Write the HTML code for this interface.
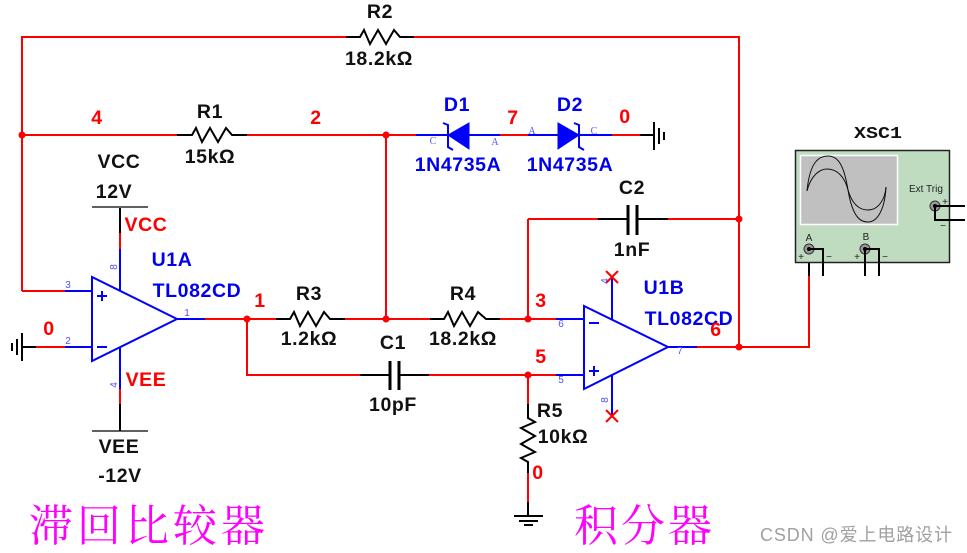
<!DOCTYPE html>
<html>
<head>
<meta charset="utf-8">
<style>
html,body{margin:0;padding:0;background:#fff;}
svg{display:block;}
text{font-family:"Liberation Sans",sans-serif;}
.l{font-size:19.5px;font-weight:bold;letter-spacing:.6px;text-anchor:middle;}
.k{fill:#111;}
.r{fill:#ff0000;}
.b{fill:#0000ee;}
.p{font-size:10px;fill:#5050ff;text-anchor:middle;}
.w{fill:none;stroke:#ff0000;stroke-width:2;}
.n{fill:none;stroke:#000;stroke-width:2;}
.u{fill:none;stroke:#0000ff;stroke-width:2;}
.zh{font-family:"Noto Serif CJK SC",serif;font-size:44px;fill:#ff00ff;}
</style>
</head>
<body>
<svg width="967" height="553" viewBox="0 0 967 553" xmlns="http://www.w3.org/2000/svg">
<rect width="967" height="553" fill="#fff"/>

<!-- red wires -->
<path class="w" d="M22 291V37H360M400 37H739V347M22 135H177M247 135H416M386 135V319M36 347H65M205 319H276M345 319H430M500 319H556M247 319V375H360M429 375H556M528 219V319M528 375V404M528 473V502M528 219H598M668 219H739M697 347H809V276M500 135H528M612 135H640M120 233V249M120 389V404M22 291H65"/>

<!-- black segments -->
<path class="n" d="M346 37H360L364 30L370 44L378 30L386 44L394 30L400 37H414"/>
<path class="n" d="M177 135H192L196 128L202 142L210 128L218 142L226 128L232 135H247"/>
<path class="n" d="M276 319H290L294 312L300 326L308 312L316 326L324 312L330 319H345"/>
<path class="n" d="M430 319H444L448 312L454 326L462 312L470 326L478 312L486 319H500"/>
<path class="n" d="M528 404V418L535 422L521 428L535 436L521 444L535 452L521 458L528 462V473"/>
<path class="n" d="M360 375H389M400 375H429M598 219H627M638 219H668"/>
<path d="M390 361V390M399 361V390M628 205V235M637 205V235" fill="none" stroke="#000" stroke-width="3"/>
<path class="n" d="M120 208V233M120 404V431M809 276V250M22 347H36M640 135H654M528 502V516"/>
<path d="M92 207H148M92 431H148" stroke="#000" stroke-width="1.3"/>

<!-- grounds -->
<path d="M22 333V361M17 339V355M12 343V351" stroke="#000" stroke-width="2" fill="none"/>
<path d="M654 122V150M659 128V144M664 132V140" stroke="#000" stroke-width="2" fill="none"/>
<path d="M514 516H543M519 521H538M524 525H533" stroke="#000" stroke-width="2" fill="none"/>

<!-- blue wires -->
<path class="u" d="M65 291H92M65 347H92M120 249V291M120 348V389M177 319H205M556 319H584M556 375H584M612 276V319M612 375V416M668 347H697M416 135H500M528 135H612"/>
<path d="M92 277V361L177 319Z" fill="#fff" stroke="#0000ff" stroke-width="2"/>
<path d="M584 306V389L668 347Z" fill="#fff" stroke="#0000ff" stroke-width="2"/>
<path class="u" d="M97 296H107M102 291V301M97 347H107M589 323H599M589 371H599M594 366V376"/>

<!-- diodes -->
<path d="M448 135L469 123V149Z" fill="#0000ff" stroke="#0000ff"/>
<path d="M579 135L558 123V149Z" fill="#0000ff" stroke="#0000ff"/>
<path class="u" d="M443 123L448 125V147L453 150M584 150L579 147V125L574 123"/>

<!-- junctions -->
<g fill="#ff0000">
<circle cx="22" cy="135" r="3.500"/><circle cx="386" cy="135" r="3.500"/>
<circle cx="247" cy="319" r="3.500"/><circle cx="386" cy="319" r="3.500"/>
<circle cx="528" cy="319" r="3.500"/><circle cx="528" cy="375" r="3.500"/>
<circle cx="739" cy="219" r="3.500"/><circle cx="739" cy="347" r="3.500"/>
</g>

<!-- NC marks -->
<path d="M606 271L618 283M618 271L606 283M606 410L618 422M618 410L606 422" stroke="#ff0000" stroke-width="2" fill="none"/>

<!-- scope -->
<rect x="795.500" y="150.500" width="154" height="112" fill="#c0dcc0" stroke="#222" stroke-width="1.500"/>
<rect x="800.500" y="155.500" width="97" height="69" fill="#c0c0c0" stroke="#fff" stroke-width="1.500"/>
<path d="M807 191C810 160 820 156 828 156C838 156 844 165 848 190C853 220 862 222 868 222C878 222 885 208 886 187" fill="none" stroke="#111"/>
<path d="M807 191C811 175 820 169 827 169C838 169 845 178 848 190C853 207 862 210 868 210C878 210 885 200 886 187" fill="none" stroke="#111"/>
<g fill="#999" stroke="#333"><circle cx="809" cy="249" r="5"/><circle cx="865" cy="249" r="5"/><circle cx="935" cy="206" r="5"/></g>
<g fill="#000"><circle cx="809" cy="249" r="2"/><circle cx="865" cy="249" r="2"/><circle cx="935" cy="206" r="2"/></g>
<path class="n" d="M809 249H823V276M865 249H879V276M865 249V276M935 206H965M935 206V220H965"/>
<g font-size="10" fill="#222">
<text x="809" y="241" text-anchor="middle">A</text><text x="866" y="240" text-anchor="middle">B</text>
<text x="909" y="192">Ext Trig</text>
<text x="801" y="260" text-anchor="middle">+</text><text x="857" y="260" text-anchor="middle">+</text><text x="945" y="205" text-anchor="middle">+</text>
<text x="829" y="260" text-anchor="middle">−</text><text x="885" y="260" text-anchor="middle">−</text><text x="943" y="229" text-anchor="middle">−</text>
</g>

<!-- pin labels -->
<text class="p" x="68" y="288">3</text><text class="p" x="68" y="344">2</text><text class="p" x="187" y="316">1</text>
<text class="p" transform="translate(117,267) rotate(-90)">8</text><text class="p" transform="translate(117,385) rotate(-90)">4</text>
<text class="p" x="561" y="327">6</text><text class="p" x="561" y="383">5</text><text class="p" x="680" y="354">7</text>
<text class="p" transform="translate(608,281) rotate(-90)">4</text><text class="p" transform="translate(608,400) rotate(-90)">8</text>
<g font-size="10" fill="#5050ff" text-anchor="middle">
<text x="433" y="144" style="font-family:'Liberation Serif',serif">C</text>
<text x="495" y="145" style="font-family:'Liberation Serif',serif">A</text>
<text x="532" y="134" style="font-family:'Liberation Serif',serif">A</text>
<text x="594" y="134" style="font-family:'Liberation Serif',serif">C</text>
</g>

<!-- black labels -->
<g class="l k">
<text x="380" y="18">R2</text><text x="379" y="65">18.2kΩ</text>
<text x="210" y="118">R1</text><text x="210" y="163">15kΩ</text>
<text x="119" y="168">VCC</text><text x="114" y="198">12V</text>
<text x="309" y="300">R3</text><text x="309" y="345">1.2kΩ</text>
<text x="463" y="300">R4</text><text x="463" y="345">18.2kΩ</text>
<text x="393" y="349">C1</text><text x="393" y="411">10pF</text>
<text x="632" y="194">C2</text><text x="632" y="256">1nF</text>
<text x="550" y="417">R5</text><text x="563" y="443">10kΩ</text>
<text x="119" y="453">VEE</text><text x="120" y="482">-12V</text>
</g>
<text x="854" y="138" textLength="48" lengthAdjust="spacingAndGlyphs" style="font-family:'Liberation Mono',monospace;font-size:17px;font-weight:bold" fill="#111">XSC1</text>

<!-- blue labels -->
<g class="l b">
<text x="457" y="111">D1</text><text x="570" y="111">D2</text>
<text x="458" y="171">1N4735A</text><text x="570" y="171">1N4735A</text>
<text x="172" y="266">U1A</text><text x="197" y="297">TL082CD</text>
<text x="664" y="294">U1B</text><text x="689" y="325">TL082CD</text>
</g>

<!-- red labels -->
<g class="l r">
<text x="97" y="124">4</text><text x="316" y="124">2</text><text x="513" y="124">7</text><text x="625" y="123">0</text>
<text x="146" y="231">VCC</text><text x="146" y="386">VEE</text>
<text x="49" y="335">0</text><text x="260" y="307">1</text>
<text x="541" y="307">3</text><text x="541" y="363">5</text><text x="716" y="336">6</text><text x="538" y="479">0</text>
</g>

<!-- chinese -->
<text class="zh" x="29" y="541" textLength="236" lengthAdjust="spacing">滞回比较器</text>
<text class="zh" x="574" y="541" textLength="138" lengthAdjust="spacing">积分器</text>
<text x="760" y="541" font-size="18" fill="#a0a0a0" style="font-family:'Liberation Sans','Noto Sans CJK SC',sans-serif" textLength="192" lengthAdjust="spacing">CSDN @爱上电路设计</text>
</svg>
</body>
</html>
